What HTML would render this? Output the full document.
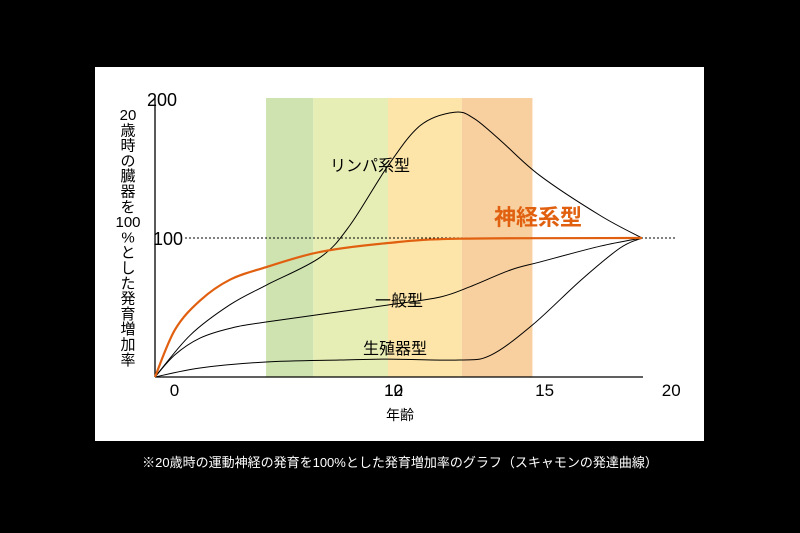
<!DOCTYPE html>
<html><head><meta charset="utf-8"><style>
body{margin:0;background:#000;width:800px;height:533px;overflow:hidden;font-family:"Liberation Sans","Noto Sans CJK JP",sans-serif}
#panel{position:absolute;left:95px;top:67px;width:609px;height:374px;background:#fff}
#cap{position:absolute;left:0;top:452px;width:800px;text-align:center;color:#fff;font-size:13px}
</style></head><body>
<div id="panel"></div>
<svg id="chart" width="800" height="533" style="position:absolute;left:0;top:0" font-family="Liberation Sans, Noto Sans CJK JP, sans-serif"></svg>
<div id="cap">※20歳時の運動神経の発育を100%とした発育増加率のグラフ（スキャモンの発達曲線）</div>
<script>
const bandStarts=[4.56,6.5,9.57,12.6];
const bandEnds=[6.5,9.57,12.6,15.5];
const bandColors=['#cfe3b1','#e7eeb5','#fde5a9','#f8cf9e'];
const lymphAges=[0,1.44,3.08,4.56,6.78,8.0,9.57,10.9,12.3,13.1,14.2,15.8,18.3,20];
const lymphVals=[0,30,52,66,86,109,152,181,190.5,186,170,145,116,100];
const neuralAges=[0,0.82,1.85,3.08,4.56,6.78,9.57,12.5,20];
const neuralVals=[0,34,55,70,79,90,96.4,99.5,100];
const generalAges=[0,0.82,1.85,3.08,4.56,9.57,11.7,12.9,14.6,15.8,18.3,20];
const generalVals=[0,16,28,35,39.6,51.8,57.5,64.7,77,82.7,94.2,100];
const reproAges=[0,1.85,4.56,7.6,9.57,12.5,13.8,15.5,17.5,19.1,20];
const reproVals=[0,6.5,10.8,12.2,12.9,12.2,15.8,37.4,69.8,92.8,100];
const yTicks=[200,100];
const xTickLabels=['0','10','12','15','20'];
const xTickPos=[0.8,9.8,9.8,16,21.2];
const X=a=>155+a*24.35, Y=v=>377-v*1.39;
const svg=document.getElementById('chart'),NS='http://www.w3.org/2000/svg';
function mk(t,at,txt){const e=document.createElementNS(NS,t);for(const k in at)e.setAttribute(k,at[k]);if(txt!=null)e.textContent=txt;svg.appendChild(e);return e;}
bandStarts.forEach((s,i)=>{const r=mk('rect',{x:X(s),y:98,width:X(bandEnds[i])-X(s),height:279,fill:bandColors[i]});

});
let l=mk('line',{x1:185,y1:Y(100),x2:675,y2:Y(100),stroke:'#000','stroke-dasharray':'2,2','stroke-width':1});


l=mk('line',{x1:155,y1:98,x2:155,y2:377,stroke:'#000','stroke-width':1.3});


l=mk('line',{x1:155,y1:377,x2:643,y2:377,stroke:'#000','stroke-width':1.3});


function path(ax,vs){const p=ax.map((a,i)=>[X(a),Y(vs[i])]);let d='M'+p[0][0]+','+p[0][1];
for(let i=0;i<p.length-1;i++){const p0=p[i-1]||p[i],p1=p[i],p2=p[i+1],p3=p[i+2]||p2;
d+=` C${p1[0]+(p2[0]-p0[0])/6},${p1[1]+(p2[1]-p0[1])/6} ${p2[0]-(p3[0]-p1[0])/6},${p2[1]-(p3[1]-p1[1])/6} ${p2[0]},${p2[1]}`;}return d;}
[[lymphAges,lymphVals,'#000',1,'lymphoid-curve'],[generalAges,generalVals,'#000',1,'general-curve'],[reproAges,reproVals,'#000',1,'reproductive-curve'],[neuralAges,neuralVals,'#e06010',2.2,'neural-curve']].forEach(s=>{
const e=mk('path',{d:path(s[0],s[1]),fill:'none',stroke:s[2],'stroke-width':s[3]});

});
yTicks.forEach(v=>{const t=mk('text',{x:v==200?147:153,y:Y(v)+7,'font-size':18,'text-anchor':'start',fill:'#000'},String(v));

});
xTickLabels.forEach((s,i)=>{const t=mk('text',{x:X(xTickPos[i]),y:396,'font-size':17,'text-anchor':'middle',fill:'#000'},s);

});
const labels=[['リンパ系型',330,171,16,'#000','normal','lymphoid-label'],['神経系型',494,225,22,'#e06010','bold','neural-label'],['一般型',375,306,16,'#000','normal','general-label'],['生殖器型',363,354,16,'#000','normal','reproductive-label']];
labels.forEach(a=>{const t=mk('text',{x:a[1],y:a[2],'font-size':a[3],fill:a[4],'font-weight':a[5]},a[0]);

});
let t=mk('text',{x:400,y:420,'font-size':14,'text-anchor':'middle',fill:'#000'},'年齢');


const yTitle=['20','歳','時','の','臓','器','を','100','%','と','し','た','発','育','増','加','率'];
const g=mk('text',{'font-size':15,'text-anchor':'middle',fill:'#000'});


yTitle.forEach((c,i)=>{const s=document.createElementNS(NS,'tspan');s.setAttribute('x',128);s.setAttribute('y',120+i*15.3);s.textContent=c;g.appendChild(s);});
</script>
</body></html>
